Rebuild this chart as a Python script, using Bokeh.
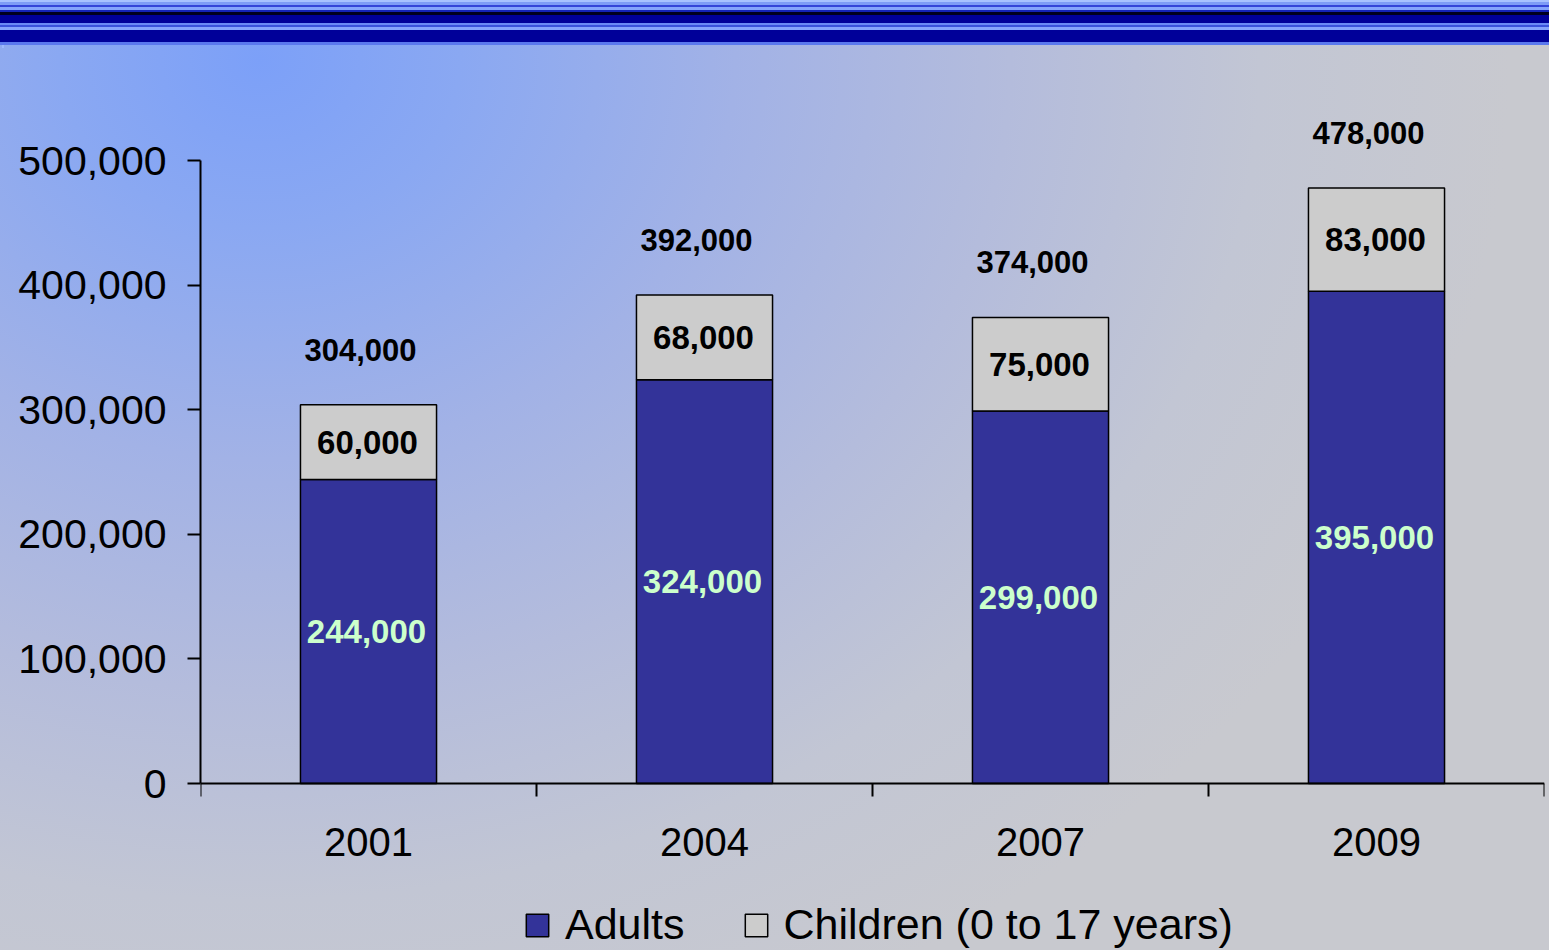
from bokeh.plotting import figure
from bokeh.models import (Range1d, FixedTicker, NumeralTickFormatter, Legend,
                          LegendItem, ColumnDataSource)
from bokeh.core.properties import value
from bokeh.embed import file_html
from bokeh.resources import INLINE

# ---- data ----
years = ["2001", "2004", "2007", "2009"]
adults = [244000, 324000, 299000, 395000]
children = [60000, 68000, 75000, 83000]
totals = [304000, 392000, 374000, 478000]
y_ticks = [0, 100000, 200000, 300000, 400000, 500000]

FONT = "Liberation Sans"
ADULT_COLOR = "#333399"
CHILD_COLOR = "#cccccc"

x = [i + 0.5 for i in range(len(years))]
source = ColumnDataSource(dict(
    x=x,
    adults=adults,
    children=children,
    totals=totals,
    adult_mid=[a / 2 for a in adults],
    child_mid=[a + c / 2 for a, c in zip(adults, children)],
    adult_lbl=[f"{v:,}" for v in adults],
    child_lbl=[f"{v:,}" for v in children],
    total_lbl=[f"{v:,}" for v in totals],
))

band = ("linear-gradient(to bottom, "
        "#a8c2ff 0px, #a8c2ff 2px, #7e9cf6 2px, #7e9cf6 5px, "
        "#3444d8 5px, #3444d8 7px, #85a4fc 7px, #85a4fc 10px, "
        "#1424b8 10px, #1424b8 12px, #00001e 12px, #00001e 15px, "
        "#000099 15px, #000099 23px, #6a8af6 23px, #6a8af6 25px, "
        "#3a52dc 25px, #3a52dc 27px, #86a4fc 27px, #86a4fc 30px, "
        "#000099 30px, #000099 42px, #5a78ee 42px, #5a78ee 45px) "
        "0 0 / 100% 45px no-repeat")
edge = "linear-gradient(#9cb8ff, #9cb8ff) 2px 3px / 2px 45px no-repeat"
glow = ("radial-gradient(ellipse 1250px 1050px at 260px 60px, #7ca0f8 0%, #8aa8f2 16%, "
        "#a2b2e6 38%, #b4bcdc 60%, #c2c6d4 80%, #c8c9cf 100%)")
bg = f"{band}, {edge}, {glow}, #c8c9cf"

# frame spans to the page bottom; the x axis sits at y = 0 via fixed_location
px_per_unit = 623 / 500000
y_lo = -167 / px_per_unit
y_hi = 688 / px_per_unit

p = figure(width=1549, height=950, output_backend="svg", toolbar_location=None,
           x_range=Range1d(0, len(years)), y_range=Range1d(y_lo, y_hi),
           min_border_left=200, min_border_right=5, min_border_top=95,
           min_border_bottom=0,
           background_fill_color=None, border_fill_color=None,
           outline_line_color=None, styles={"background": bg})

p.xgrid.visible = False
p.ygrid.visible = False

rs = p.vbar_stack(["adults", "children"], x="x", width=0.405, source=source,
                  color=[ADULT_COLOR, CHILD_COLOR], line_color="black",
                  line_width=1.5)

# labels
p.text(x="x", y="adult_mid", text="adult_lbl", source=source,
       text_font=value(FONT), text_font_style="bold", text_font_size="33px",
       text_color="#ccffcc", text_align="center", text_baseline="middle",
       x_offset=-2)
p.text(x="x", y="child_mid", text="child_lbl", source=source,
       text_font=value(FONT), text_font_style="bold", text_font_size="33px",
       text_color="black", text_align="center", text_baseline="middle",
       x_offset=-1)
p.text(x="x", y="totals", text="total_lbl", source=source,
       text_font=value(FONT), text_font_style="bold", text_font_size="31px",
       text_color="black", text_align="center", text_baseline="middle",
       x_offset=-8, y_offset=-55)

# y axis
ya = p.yaxis[0]
ya.ticker = FixedTicker(ticks=y_ticks, minor_ticks=[])
ya.formatter = NumeralTickFormatter(format="0,0")
ya.bounds = (0, y_ticks[-1])
ya.major_tick_in = 0
ya.major_tick_out = 13
ya.minor_tick_out = 0
ya.minor_tick_in = 0
ya.axis_line_width = 2
ya.major_tick_line_width = 2
ya.major_label_text_font = FONT
ya.major_label_text_font_size = "41px"
ya.major_label_text_color = "black"
ya.major_label_standoff = 21

# x axis
xa = p.xaxis[0]
xa.fixed_location = 0
xa.ticker = FixedTicker(ticks=x, minor_ticks=list(range(len(years) + 1)))
xa.major_label_overrides = {xi: yr for xi, yr in zip(x, years)}
xa.major_tick_in = 0
xa.major_tick_out = 0
xa.minor_tick_in = 0
xa.minor_tick_out = 13
xa.minor_tick_line_color = "black"
xa.minor_tick_line_width = 2
xa.axis_line_width = 2
xa.major_label_text_font = FONT
xa.major_label_text_font_size = "40px"
xa.major_label_text_color = "black"
xa.major_label_standoff = 31

legend = Legend(items=[LegendItem(label="Adults", renderers=[rs[0]]),
                       LegendItem(label="Children (0 to 17 years)", renderers=[rs[1]])],
                orientation="horizontal", location=(323, 1),
                glyph_width=28, glyph_height=28, label_standoff=14, spacing=57,
                label_text_font=FONT, label_text_font_size="43px",
                label_text_color="black", background_fill_alpha=0,
                border_line_color=None, padding=0, margin=0)
p.add_layout(legend, "center")

open("out.html", "w").write(file_html(p, INLINE))
